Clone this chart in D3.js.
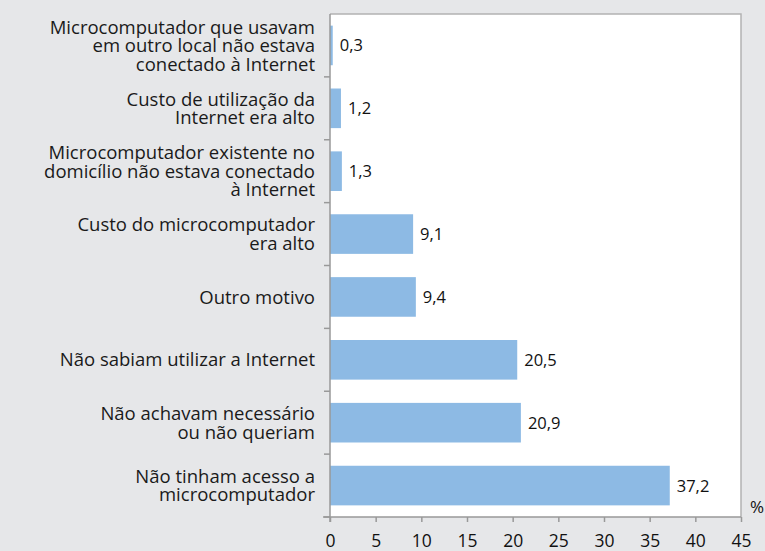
<!DOCTYPE html>
<html><head><meta charset="utf-8">
<script src="https://cdn.jsdelivr.net/npm/d3@7"></script>
<style>html,body{margin:0;padding:0;background:#e6e7e9;}svg{display:block;}</style>
</head><body>
<svg id="c" width="765" height="551"></svg>
<script>
const categories = [
  ["Microcomputador que usavam","em outro local não estava","conectado à Internet"],
  ["Custo de utilização da","Internet era alto"],
  ["Microcomputador existente no","domicílio não estava conectado","à Internet"],
  ["Custo do microcomputador","era alto"],
  ["Outro motivo"],
  ["Não sabiam utilizar a Internet"],
  ["Não achavam necessário","ou não queriam"],
  ["Não tinham acesso a","microcomputador"]
];
const values = [0.3, 1.2, 1.3, 9.1, 9.4, 20.5, 20.9, 37.2];
const valueLabels = ["0,3","1,2","1,3","9,1","9,4","20,5","20,9","37,2"];
const ticks = [0,5,10,15,20,25,30,35,40,45];

const svg = d3.select("#c");
const font = "'Open Sans', Roboto, sans-serif";
const L = 330, R = 741, T = 14, B = 517;
const x = d3.scaleLinear().domain([0,45]).range([L,R]);
const y = d3.scaleBand().domain(d3.range(categories.length)).range([T,B]).paddingInner(0.37).paddingOuter(0.185);

svg.append("rect").attr("x",L).attr("y",T).attr("width",R-L).attr("height",B-T).attr("fill","#fff");
svg.append("path").attr("d",`M${L},${T}H${R}V${B}`).attr("fill","none").attr("stroke","#b3b3b3").attr("stroke-width",1.5);

svg.selectAll(".bar").data(values).join("rect")
  .attr("x",x(0)).attr("y",(d,i)=>y(i)).attr("width",d=>x(d)-x(0)).attr("height",y.bandwidth())
  .attr("fill","#8dbae4");

svg.selectAll(".vl").data(values).join("text")
  .attr("x",d=>x(d)+7).attr("y",(d,i)=>y(i)+y.bandwidth()/2).attr("dy","0.36em")
  .attr("font-family",font).attr("font-size",16.5).attr("fill","#111")
  .text((d,i)=>valueLabels[i]);

// y axis line and boundary ticks
const step = (B-T)/categories.length;
svg.append("line").attr("x1",L).attr("x2",L).attr("y1",T).attr("y2",B+5).attr("stroke","#999").attr("stroke-width",1.5);
for(let i=1;i<=categories.length;i++){
  svg.append("line").attr("x1",L-6).attr("x2",L).attr("y1",T+i*step).attr("y2",T+i*step).attr("stroke","#999").attr("stroke-width",1.5);
}

// category labels
const lh = 18.5;
categories.forEach((lines,i)=>{
  const cy = y(i)+y.bandwidth()/2;
  const t = svg.append("text").attr("font-family",font).attr("font-size",18.5).attr("fill","#1a1a1a").attr("text-anchor","end");
  lines.forEach((ln,j)=>{
    t.append("tspan").attr("x",315).attr("y",cy+(j-(lines.length-1)/2)*lh).attr("dy","0.36em").text(ln);
  });
});

// x axis
const xa = svg.append("g").attr("transform",`translate(0,${B})`)
  .call(d3.axisBottom(x).tickValues(ticks).tickSize(5).tickPadding(13).tickFormat(d3.format("d")));
xa.select(".domain").attr("stroke","#999").attr("stroke-width",1.5).attr("d",`M${L-7},0H${R}`);
xa.selectAll(".tick line").attr("stroke","#999").attr("stroke-width",1.5);
xa.selectAll(".tick text").attr("font-family",font).attr("font-size",17.5).attr("fill","#111");

svg.append("text").attr("x",757).attr("y",507).attr("text-anchor","middle").attr("dy","0.36em")
  .attr("font-family",font).attr("font-size",17).attr("fill","#111").text("%");
</script>
</body></html>
